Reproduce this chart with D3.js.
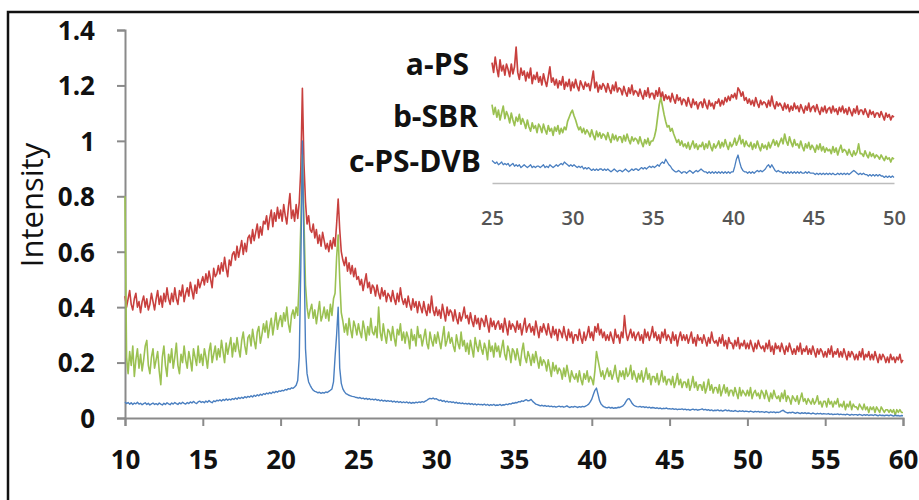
<!DOCTYPE html>
<html>
<head>
<meta charset="utf-8">
<script src="https://cdn.jsdelivr.net/npm/d3@7"></script>
<style>
  html, body { margin: 0; padding: 0; background: #fff; }
  svg { display: block; }
</style>
</head>
<body>
<svg id="chart" width="919" height="500"></svg>
<script>
// XRD patterns, 2θ from 10 to 60 degrees, one row per degree (0.1° steps)
const xStart = 10, xStep = 0.1;

const aPS = [
  .44,.40,.43,.46,.41,.39,.43,.45,.40,.42,
  .38,.42,.44,.40,.43,.39,.41,.45,.42,.39,
  .43,.46,.41,.44,.40,.45,.42,.47,.43,.41,
  .45,.42,.47,.43,.41,.46,.44,.48,.42,.45,
  .47,.44,.49,.46,.43,.48,.45,.50,.47,.49,
  .51,.48,.52,.49,.53,.50,.47,.54,.51,.52,
  .55,.52,.56,.53,.58,.54,.51,.57,.55,.59,
  .60,.57,.62,.58,.61,.64,.59,.63,.60,.65,
  .66,.63,.68,.64,.67,.70,.65,.69,.66,.71,
  .70,.73,.68,.72,.75,.69,.74,.71,.76,.72,
  .75,.71,.77,.73,.70,.76,.81,.72,.75,.71,
  .77,.72,.78,.90,1.19,.92,.78,.70,.73,.68,
  .67,.70,.65,.68,.63,.66,.62,.67,.64,.61,
  .63,.60,.64,.61,.65,.62,.70,.79,.68,.60,
  .57,.55,.58,.53,.56,.52,.55,.51,.54,.50,
  .51,.48,.50,.46,.49,.52,.47,.49,.45,.48,
  .47,.44,.48,.45,.43,.47,.44,.46,.42,.45,
  .44,.42,.46,.43,.41,.45,.42,.47,.43,.41,
  .43,.40,.44,.41,.39,.43,.40,.42,.38,.42,
  .40,.38,.42,.39,.37,.41,.38,.44,.39,.37,
  .40,.37,.39,.36,.41,.38,.35,.40,.37,.39,
  .38,.35,.39,.36,.34,.38,.35,.37,.40,.36,
  .37,.34,.38,.35,.33,.37,.34,.36,.32,.36,
  .35,.33,.37,.34,.31,.36,.33,.35,.32,.34,
  .35,.32,.34,.31,.36,.33,.30,.35,.32,.34,
  .33,.31,.35,.32,.34,.30,.33,.36,.31,.33,
  .34,.31,.33,.30,.35,.32,.29,.33,.31,.34,
  .32,.30,.34,.31,.29,.33,.30,.32,.28,.32,
  .31,.29,.33,.30,.28,.32,.29,.31,.27,.30,
  .30,.28,.32,.29,.27,.31,.28,.30,.33,.29,
  .31,.28,.33,.31,.34,.30,.32,.29,.31,.28,
  .30,.28,.31,.29,.27,.32,.29,.30,.27,.31,
  .29,.37,.31,.28,.30,.32,.29,.31,.28,.30,
  .31,.28,.30,.27,.32,.29,.31,.28,.30,.33,
  .29,.31,.28,.30,.27,.31,.29,.32,.28,.30,
  .29,.27,.31,.28,.30,.26,.29,.31,.28,.30,
  .28,.30,.27,.29,.31,.27,.29,.26,.30,.28,
  .29,.27,.30,.28,.26,.29,.27,.31,.28,.27,
  .28,.26,.29,.27,.30,.26,.28,.25,.29,.27,
  .27,.25,.28,.26,.29,.25,.27,.26,.28,.25,
  .27,.25,.28,.26,.24,.27,.25,.28,.26,.25,
  .26,.24,.27,.25,.28,.24,.26,.23,.27,.25,
  .26,.24,.27,.25,.23,.26,.24,.27,.25,.23,
  .25,.23,.26,.24,.27,.23,.25,.24,.26,.23,
  .25,.23,.26,.24,.22,.25,.23,.25,.24,.22,
  .24,.22,.25,.23,.26,.22,.24,.23,.25,.22,
  .24,.22,.25,.23,.21,.24,.22,.24,.23,.21,
  .23,.21,.24,.22,.25,.21,.23,.22,.24,.21,
  .23,.21,.24,.22,.20,.23,.21,.23,.22,.20,
  .22,.20,.23,.21,.22,.20,.22,.21,.23,.20,
  .21
];

const bSBR = [
  .80,.22,.16,.24,.19,.26,.15,.21,.25,.18,
  .23,.17,.21,.26,.28,.19,.16,.22,.25,.18,
  .21,.24,.17,.12,.22,.26,.19,.15,.23,.20,
  .25,.18,.22,.27,.19,.16,.23,.20,.26,.21,
  .18,.24,.21,.17,.25,.22,.19,.26,.20,.23,
  .19,.25,.22,.18,.24,.27,.20,.23,.26,.21,
  .25,.22,.28,.24,.20,.27,.23,.26,.29,.22,
  .27,.24,.29,.25,.22,.28,.31,.26,.23,.29,
  .30,.26,.32,.28,.25,.31,.33,.27,.30,.34,
  .31,.35,.29,.33,.36,.30,.34,.38,.32,.35,
  .37,.33,.38,.35,.40,.34,.31,.37,.39,.36,
  .40,.37,.50,.70,.95,.72,.48,.40,.36,.39,
  .41,.36,.39,.34,.38,.42,.35,.37,.40,.36,
  .39,.35,.41,.37,.43,.45,.58,.66,.50,.38,
  .35,.31,.34,.30,.36,.32,.29,.35,.33,.30,
  .34,.31,.29,.35,.32,.28,.33,.30,.36,.31,
  .30,.33,.29,.40,.31,.28,.34,.30,.27,.32,
  .31,.28,.33,.29,.26,.32,.30,.34,.28,.31,
  .27,.31,.29,.25,.32,.28,.30,.26,.33,.29,
  .30,.26,.29,.32,.27,.25,.31,.28,.26,.30,
  .27,.31,.28,.25,.29,.33,.26,.28,.31,.27,
  .29,.26,.24,.30,.27,.25,.31,.26,.28,.24,
  .27,.23,.28,.25,.22,.29,.26,.24,.28,.25,
  .23,.27,.25,.21,.28,.24,.26,.22,.27,.24,
  .26,.22,.25,.28,.23,.21,.26,.24,.20,.25,
  .24,.21,.25,.22,.19,.24,.27,.22,.20,.24,
  .22,.19,.23,.20,.24,.21,.18,.22,.19,.21,
  .20,.17,.21,.18,.15,.20,.17,.19,.16,.18,
  .17,.14,.18,.15,.19,.16,.13,.17,.15,.14,
  .16,.13,.17,.14,.12,.16,.14,.17,.13,.15,
  .14,.12,.17,.24,.21,.18,.15,.17,.14,.16,
  .18,.15,.17,.14,.16,.19,.15,.13,.17,.15,
  .17,.14,.18,.15,.16,.19,.14,.17,.15,.13,
  .16,.14,.17,.13,.15,.18,.14,.16,.12,.15,
  .15,.13,.16,.12,.14,.17,.13,.15,.12,.14,
  .14,.12,.15,.11,.13,.16,.12,.14,.11,.13,
  .13,.11,.14,.10,.12,.15,.11,.13,.10,.12,
  .12,.10,.13,.09,.11,.14,.10,.12,.09,.11,
  .11,.09,.12,.08,.10,.12,.09,.11,.08,.10,
  .10,.08,.11,.09,.07,.11,.08,.10,.09,.08,
  .10,.08,.11,.07,.09,.10,.08,.09,.07,.10,
  .09,.07,.10,.08,.06,.09,.07,.10,.08,.07,
  .08,.06,.09,.07,.10,.06,.08,.07,.05,.08,
  .07,.06,.08,.05,.07,.09,.06,.07,.05,.07,
  .06,.05,.07,.05,.06,.08,.05,.06,.04,.06,
  .06,.04,.07,.05,.06,.04,.06,.05,.07,.04,
  .05,.04,.06,.03,.05,.04,.06,.03,.05,.04,
  .04,.03,.05,.04,.03,.05,.03,.04,.02,.04,
  .03,.04,.02,.04,.03,.02,.04,.03,.02,.03,
  .03,.02,.03,.02,.03,.01,.03,.02,.03,.02,
  .02
];

const cPSDVB = [
  .058,.052,.056,.050,.055,.049,.054,.051,.057,.050,
  .053,.048,.052,.055,.049,.053,.047,.051,.054,.049,
  .052,.048,.054,.050,.047,.053,.049,.055,.051,.048,
  .054,.050,.056,.052,.049,.055,.051,.057,.053,.050,
  .056,.052,.058,.054,.060,.055,.052,.058,.061,.056,
  .059,.055,.061,.057,.063,.058,.055,.062,.059,.064,
  .062,.066,.061,.067,.063,.069,.064,.068,.065,.070,
  .067,.072,.068,.074,.070,.075,.071,.077,.073,.078,
  .075,.080,.076,.082,.078,.084,.080,.086,.082,.088,
  .085,.090,.087,.092,.088,.094,.091,.096,.093,.098,
  .096,.100,.098,.103,.101,.106,.104,.109,.107,.112,
  .118,.135,.22,.55,1.0,.62,.25,.16,.13,.118,
  .108,.100,.096,.094,.091,.093,.089,.092,.090,.094,
  .092,.096,.100,.105,.13,.22,.30,.40,.18,.125,
  .105,.095,.088,.085,.082,.080,.078,.077,.075,.074,
  .072,.074,.070,.072,.068,.071,.067,.070,.066,.068,
  .065,.068,.064,.066,.062,.065,.061,.064,.060,.063,
  .060,.062,.058,.061,.057,.060,.056,.059,.055,.058,
  .055,.058,.054,.057,.053,.056,.054,.057,.055,.058,
  .056,.059,.057,.061,.064,.068,.071,.069,.072,.068,
  .070,.066,.063,.065,.060,.063,.058,.061,.057,.059,
  .056,.058,.054,.057,.053,.055,.052,.054,.051,.053,
  .050,.053,.049,.052,.048,.051,.047,.050,.048,.049,
  .047,.050,.046,.049,.045,.048,.046,.049,.045,.047,
  .046,.049,.045,.048,.047,.050,.048,.052,.050,.054,
  .053,.056,.055,.059,.058,.062,.060,.064,.066,.062,
  .063,.067,.060,.055,.050,.048,.046,.044,.046,.043,
  .045,.042,.044,.041,.043,.040,.042,.039,.041,.043,
  .040,.042,.039,.041,.044,.040,.038,.041,.039,.042,
  .040,.038,.041,.039,.042,.040,.043,.046,.050,.058,
  .068,.085,.100,.108,.085,.062,.050,.044,.040,.038,
  .037,.039,.036,.038,.035,.037,.036,.039,.038,.041,
  .044,.050,.060,.068,.070,.062,.052,.046,.043,.041,
  .040,.042,.039,.041,.038,.040,.037,.039,.036,.038,
  .037,.035,.037,.034,.036,.033,.035,.034,.036,.033,
  .034,.032,.034,.031,.033,.030,.032,.031,.033,.030,
  .032,.029,.031,.028,.030,.032,.029,.031,.028,.030,
  .031,.033,.029,.031,.028,.030,.027,.029,.026,.028,
  .027,.029,.026,.028,.025,.027,.029,.026,.028,.025,
  .026,.024,.027,.025,.023,.026,.024,.026,.023,.025,
  .024,.022,.025,.023,.021,.024,.022,.024,.021,.023,
  .022,.020,.023,.021,.019,.022,.020,.022,.019,.021,
  .020,.022,.026,.028,.023,.020,.018,.020,.019,.021,
  .019,.017,.020,.018,.016,.019,.017,.019,.016,.018,
  .017,.015,.018,.016,.014,.017,.015,.017,.014,.016,
  .015,.014,.016,.013,.015,.012,.014,.013,.015,.012,
  .014,.012,.013,.011,.014,.012,.010,.013,.011,.012,
  .012,.010,.013,.011,.009,.012,.010,.012,.009,.011,
  .011,.009,.012,.010,.008,.011,.009,.010,.008,.010,
  .010,.008,.011,.009,.007,.010,.008,.009,.007,.009,
  .008
];

// Inset: 2θ from 25 to 50 (0.1° steps), relative units
const insetStart = 25, insetStep = 0.1;

const insetPS = [
  .86,.79,.90,.82,.76,.88,.80,.84,.77,.85,
  .81,.76,.85,.78,.83,.97,.79,.74,.82,.77,
  .80,.73,.79,.75,.82,.71,.77,.74,.79,.72,
  .76,.70,.78,.73,.69,.76,.83,.72,.75,.70,
  .74,.68,.73,.70,.76,.67,.72,.69,.74,.66,
  .72,.68,.74,.69,.66,.73,.70,.67,.72,.69,
  .71,.66,.73,.80,.68,.72,.65,.70,.67,.71,
  .69,.65,.71,.67,.64,.70,.66,.72,.65,.68,
  .67,.63,.69,.65,.62,.68,.64,.70,.63,.66,
  .65,.62,.67,.63,.60,.66,.62,.68,.61,.64,
  .64,.60,.66,.62,.68,.61,.65,.59,.63,.60,
  .62,.58,.64,.60,.57,.63,.59,.61,.56,.60,
  .59,.55,.61,.57,.54,.60,.56,.58,.53,.57,
  .58,.54,.60,.56,.53,.59,.55,.57,.53,.58,
  .57,.60,.55,.59,.56,.61,.58,.62,.59,.63,
  .61,.64,.60,.68,.66,.62,.65,.59,.61,.57,
  .60,.56,.59,.55,.61,.57,.54,.59,.56,.58,
  .57,.54,.59,.55,.62,.56,.53,.58,.55,.57,
  .55,.52,.57,.53,.56,.51,.55,.52,.57,.53,
  .55,.51,.56,.53,.50,.55,.52,.57,.51,.54,
  .55,.51,.56,.52,.49,.54,.51,.55,.50,.53,
  .54,.50,.55,.51,.53,.49,.54,.51,.55,.50,
  .53,.49,.54,.51,.48,.53,.50,.55,.49,.52,
  .52,.49,.53,.50,.47,.52,.49,.51,.47,.50,
  .50,.47,.51,.48,.45,.50,.47,.49,.45,.48,
  .47
];

const insetSBR = [
  .56,.49,.54,.47,.52,.45,.50,.55,.46,.51,
  .48,.43,.50,.45,.41,.47,.44,.49,.42,.46,
  .43,.39,.45,.40,.37,.43,.39,.41,.36,.42,
  .40,.36,.42,.38,.35,.41,.37,.39,.34,.40,
  .37,.41,.35,.39,.36,.40,.38,.44,.47,.50,
  .52,.48,.45,.41,.38,.40,.36,.39,.35,.38,
  .36,.33,.38,.34,.31,.37,.33,.36,.32,.35,
  .34,.31,.36,.32,.29,.35,.31,.34,.30,.33,
  .33,.29,.34,.30,.35,.31,.28,.33,.30,.32,
  .31,.28,.33,.29,.26,.31,.28,.32,.27,.30,
  .30,.33,.38,.47,.56,.61,.55,.49,.44,.40,
  .41,.37,.39,.35,.32,.29,.31,.27,.30,.26,
  .28,.25,.29,.24,.27,.30,.25,.28,.24,.27,
  .26,.29,.24,.28,.25,.30,.26,.23,.28,.25,
  .27,.30,.25,.29,.26,.31,.27,.24,.29,.26,
  .28,.32,.27,.30,.34,.28,.31,.26,.30,.27,
  .26,.29,.24,.28,.25,.30,.26,.23,.28,.25,
  .27,.24,.29,.25,.28,.31,.27,.30,.26,.29,
  .32,.28,.35,.30,.27,.33,.29,.26,.31,.27,
  .28,.25,.30,.26,.23,.28,.25,.29,.24,.27,
  .25,.22,.27,.24,.28,.23,.26,.22,.25,.23,
  .24,.21,.26,.22,.25,.20,.24,.27,.22,.24,
  .23,.20,.24,.21,.19,.23,.20,.22,.28,.21,
  .21,.19,.23,.20,.18,.22,.19,.21,.18,.20,
  .19,.17,.20,.18,.16,.19,.17,.18,.15,.18,
  .17
];

const insetDVB = [
  .16,.15,.14,.15,.13,.14,.15,.13,.14,.13,
  .14,.12,.13,.14,.12,.13,.12,.13,.11,.12,
  .13,.12,.11,.12,.13,.11,.12,.11,.12,.12,
  .11,.12,.13,.11,.12,.11,.13,.12,.11,.12,
  .13,.12,.13,.14,.13,.15,.14,.13,.12,.13,
  .12,.13,.12,.11,.12,.11,.12,.10,.11,.10,
  .11,.10,.09,.10,.09,.10,.09,.10,.10,.09,
  .10,.09,.10,.09,.08,.09,.10,.09,.08,.09,
  .09,.08,.09,.10,.09,.08,.09,.10,.09,.10,
  .10,.09,.10,.11,.10,.11,.10,.11,.12,.11,
  .12,.11,.12,.13,.12,.14,.15,.14,.17,.15,
  .13,.12,.10,.09,.08,.08,.09,.08,.07,.08,
  .08,.07,.08,.09,.08,.07,.08,.09,.08,.09,
  .10,.09,.08,.08,.07,.08,.07,.08,.07,.08,
  .07,.08,.07,.08,.07,.08,.07,.08,.07,.08,
  .08,.12,.17,.20,.15,.11,.09,.08,.08,.07,
  .08,.07,.08,.07,.08,.09,.08,.09,.08,.09,
  .10,.12,.13,.11,.13,.11,.09,.08,.09,.08,
  .08,.07,.08,.07,.08,.07,.08,.07,.08,.07,
  .08,.07,.08,.07,.07,.08,.07,.08,.07,.07,
  .07,.06,.07,.06,.07,.06,.07,.06,.07,.06,
  .07,.06,.07,.06,.06,.07,.06,.07,.06,.07,
  .06,.07,.06,.07,.08,.09,.08,.07,.06,.07,
  .06,.07,.06,.06,.05,.06,.05,.06,.05,.06,
  .05,.06,.05,.05,.04,.05,.04,.05,.04,.05,
  .04
];

const seriesNames = ["a-PS", "b-SBR", "c-PS-DVB"];
const seriesColors = ["#c8403e", "#9bc152", "#4a7fc0"];

const xTicks = [10, 15, 20, 25, 30, 35, 40, 45, 50, 55, 60];
const yTicks = [0, 0.2, 0.4, 0.6, 0.8, 1, 1.2, 1.4];
const yTickLabels = ["0", "0.2", "0.4", "0.6", "0.8", "1", "1.2", "1.4"];
const insetTicks = [25, 30, 35, 40, 45, 50];

const svg = d3.select("#chart");
const font = "'Open Sans', 'Liberation Sans', Arial, sans-serif";

// frame
svg.append("path")
  .attr("d", "M8,500V12H919")
  .attr("fill", "none")
  .attr("stroke", "#111")
  .attr("stroke-width", 2.5);

// main scales
const x = d3.scaleLinear().domain([10, 60]).range([125, 903]);
const y = d3.scaleLinear().domain([0, 1.4]).range([418, 30]);

const axisColor = "#8a8a8a";

const gy = svg.append("g")
  .attr("transform", `translate(${x.range()[0]},0)`)
  .call(d3.axisLeft(y).tickValues(yTicks).tickSize(8)
    .tickFormat((d, i) => yTickLabels[i]));
gy.select(".domain").attr("stroke", axisColor).attr("stroke-width", 2);
gy.selectAll(".tick line").attr("stroke", axisColor).attr("stroke-width", 2);
gy.selectAll(".tick text")
  .attr("x", -30).attr("dy", "0.36em")
  .attr("fill", "#111")
  .style("font", `700 26px ${font}`);

const gx = svg.append("g")
  .attr("transform", `translate(0,${y.range()[0]})`)
  .call(d3.axisBottom(x).tickValues(xTicks).tickSize(8).tickFormat(d3.format("d")));
gx.select(".domain").attr("stroke", axisColor).attr("stroke-width", 2);
gx.selectAll(".tick line").attr("stroke", axisColor).attr("stroke-width", 2);
gx.selectAll(".tick text")
  .attr("y", 42).attr("dy", "0.36em")
  .attr("fill", "#111")
  .style("font", `700 26px ${font}`);

// y axis title
svg.append("text")
  .attr("transform", "translate(43,205) rotate(-90)")
  .attr("text-anchor", "middle")
  .attr("fill", "#111")
  .style("font", `400 31px ${font}`)
  .text("Intensity");

// main patterns
const mainLine = d3.line()
  .x((d, i) => x(xStart + i * xStep))
  .y(d => y(d));

[aPS, bSBR, cPSDVB].forEach((s, k) => {
  svg.append("path")
    .datum(s)
    .attr("fill", "none")
    .attr("stroke", seriesColors[k])
    .attr("stroke-width", k === 2 ? 1.4 : 1.6)
    .attr("stroke-linejoin", "round")
    .attr("d", mainLine);
});

// inset
const ix = d3.scaleLinear().domain([25, 50]).range([492, 894]);
const iy = d3.scaleLinear().domain([0, 1]).range([183, 43]);

const gi = svg.append("g")
  .attr("transform", `translate(0,${iy(0)})`)
  .call(d3.axisBottom(ix).tickValues(insetTicks).tickSize(0).tickFormat(d3.format("d")));
gi.select(".domain").attr("stroke", "#bdbdbd").attr("stroke-width", 1.5);
gi.selectAll(".tick text")
  .attr("y", 35).attr("dy", "0.36em")
  .attr("fill", "#555")
  .style("font", `600 20px ${font}`);

const insetLine = d3.line()
  .x((d, i) => ix(insetStart + i * insetStep))
  .y(d => iy(d));

[insetPS, insetSBR, insetDVB].forEach((s, k) => {
  svg.append("path")
    .datum(s)
    .attr("fill", "none")
    .attr("stroke", seriesColors[k])
    .attr("stroke-width", k === 2 ? 1.3 : 1.7)
    .attr("stroke-linejoin", "round")
    .attr("d", insetLine);
});

// series labels in the inset
const labelPos = [[469, 75], [478, 127], [481, 172]];
seriesNames.forEach((n, k) => {
  svg.append("text")
    .attr("x", labelPos[k][0]).attr("y", labelPos[k][1])
    .attr("text-anchor", "end")
    .attr("fill", "#111")
    .style("font", `700 30px ${font}`)
    .text(n);
});
</script>
</body>
</html>
